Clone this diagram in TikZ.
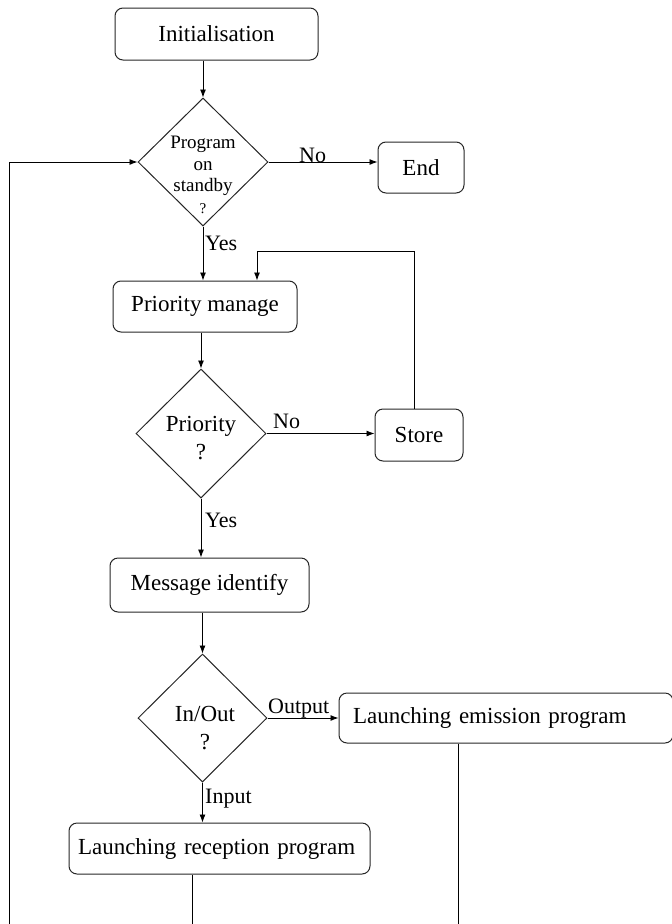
\documentclass[tikz,border=0pt]{standalone}
\usepackage{fontspec}
\setmainfont{Liberation Serif}
\usetikzlibrary{shapes.geometric,arrows.meta}
\tikzset{
  rbox/.style={draw=black!85, line width=1pt, rounded corners=8pt, inner sep=0pt,
    font=\fontsize{23}{28}\selectfont},
  dia/.style={draw=black!85, line width=1pt, diamond, inner sep=0pt, aspect=1},
  dtext/.style={align=center, inner sep=0pt, font=\fontsize{23}{28}\selectfont},
  lab/.style={inner sep=0pt, font=\fontsize{22}{26}\selectfont},
  ln/.style={draw=black, line width=0.9pt},
  arr/.style={ln, -{Latex[length=8pt,width=6pt]}}
}
\begin{document}
\begin{tikzpicture}[x=1pt,y=-1pt]
\useasboundingbox (0,0) rectangle (672,924);
\begin{scope}
\clip (0,0) rectangle (672,924);
% boxes
\node[rbox, minimum width=203pt, minimum height=52pt] (init) at (216.5,34) {Initialisation};
\node[dia, minimum width=130pt, minimum height=128pt] (d1) at (203,162) {};
\node[align=center, inner sep=0pt, font=\fontsize{19}{21.5}\selectfont] (d1t) at (203,175)
  {Program\\on\\standby\\{\fontsize{15}{15}\selectfont ?}};
\node[rbox, minimum width=86pt, minimum height=51pt] (end) at (421,167.5) {End};
\node[rbox, minimum width=184pt, minimum height=51pt] (pm) at (205,306.5) {Priority manage};
\node[dia, minimum width=130pt, minimum height=129pt] (d2) at (201,433.5) {};
\node[dtext] (d2t) at (201,438) {Priority\\?};
\node[rbox, minimum width=88pt, minimum height=52pt] (store) at (419,435) {Store};
\node[rbox, minimum width=199pt, minimum height=54pt] (mi) at (209.5,585) {Message identify};
\node[dia, minimum width=129pt, minimum height=128pt] (d3) at (202.5,718) {};
\node[dtext] (d3t) at (205,728) {In/Out\\?};
\node[rbox, minimum width=334pt, minimum height=50pt, text width=306pt, align=left] (em) at (506,718) {Launching emission program};
\node[rbox, minimum width=301pt, minimum height=51pt, text width=283pt, align=left] (rp) at (219.5,848.5) {Launching reception program};
% labels
\node[lab, anchor=base west] (l1) at (299,162) {No};
\node[lab, anchor=base west] (l2) at (205,250) {Yes};
\node[lab, anchor=base west] (l3) at (273,428) {No};
\node[lab, anchor=base west] (l4) at (205,527) {Yes};
\node[lab, anchor=base west] (l5) at (268,713) {Output};
\node[lab, anchor=base west] (l6) at (205,803) {Input};
% connectors
\draw[arr] (d1.north |- init.south) -- (d1.north);
\draw[arr] (d1.east) -- (d1.east -| end.west);
\draw[arr] (d1.south) -- (d1.south |- pm.north);
\draw[arr] (d2.north |- pm.south) -- (d2.north);
\draw[arr] (d2.east) -- (d2.east -| store.west);
\coordinate (c1) at (414,251);
\coordinate (c2) at (257,251);
\draw[arr] (store.north -| c1) -- (c1) -- (c2) -- (c2 |- pm.north);
\draw[arr] (d2.south) -- (d2.south |- mi.north);
\draw[arr] (d3.north |- mi.south) -- (d3.north);
\draw[arr] (d3.east) -- (d3.east -| em.west);
\draw[arr] (d3.south) -- (d3.south |- rp.north);
\coordinate (lb) at (9,924);
\draw[arr] (lb) -- (lb |- d1.west) -- (d1.west);
\coordinate (rb) at (192,924);
\draw[ln] (rp.south -| rb) -- (rb);
\coordinate (eb) at (458,924);
\draw[ln] (em.south -| eb) -- (eb);
\end{scope}
\end{tikzpicture}
\end{document}
